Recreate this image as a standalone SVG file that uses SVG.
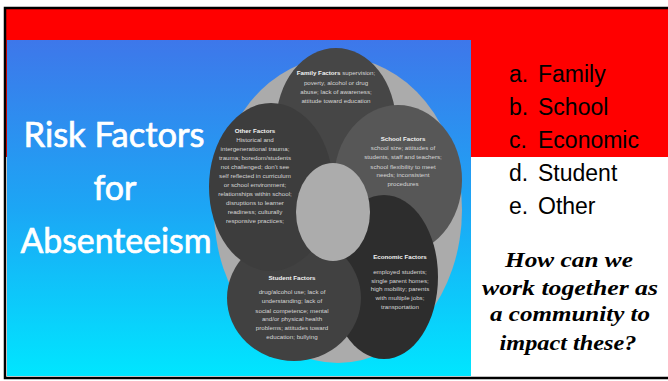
<svg xmlns="http://www.w3.org/2000/svg" width="668" height="381" viewBox="0 0 668 381">
<defs>
<linearGradient id="bg" x1="0" y1="0" x2="0" y2="1">
<stop offset="0" stop-color="#3e77ea"/>
<stop offset="0.5" stop-color="#1ca6f5"/>
<stop offset="1" stop-color="#00e6ff"/>
</linearGradient>
<style>
.t{font-family:"Liberation Sans",Arial,sans-serif;font-size:6.2px;fill:#d6d6d6;text-anchor:middle}
.b{font-weight:bold;fill:#f2f2f2}
.title{font-family:Lato,"Liberation Sans",sans-serif;font-size:34px;fill:#ffffff;stroke:#ffffff;stroke-width:0.7;text-anchor:middle}
.list{font-family:"Liberation Sans",Arial,sans-serif;font-size:23px;fill:#000}
.q{font-family:"Liberation Serif","Times New Roman",serif;font-style:italic;font-weight:bold;font-size:22px;fill:#000;text-anchor:middle}
</style>
</defs>
<rect x="0" y="0" width="668" height="381" fill="#ffffff"/>
<rect x="6" y="9" width="662" height="148" fill="#ff0000"/>
<rect x="7" y="40" width="464" height="336" fill="url(#bg)"/>
<rect x="5" y="8" width="672" height="370" fill="none" stroke="#000" stroke-width="2.5"/>

<g id="title">
<text class="title" x="114" y="147" textLength="181" lengthAdjust="spacingAndGlyphs">Risk Factors</text>
<text class="title" x="115" y="200">for</text>
<text class="title" x="116" y="253" textLength="191" lengthAdjust="spacingAndGlyphs">Absenteeism</text>
</g>

<g id="background"><ellipse cx="338" cy="210" rx="124" ry="153" fill="#ababab"/></g>

<g id="family">
<ellipse cx="336" cy="124" rx="60" ry="76" fill="#464646"/>
<text class="t" x="336" y="75"><tspan class="b">Family Factors</tspan> supervision;</text>
<text class="t" x="336" y="85">poverty, alcohol or drug</text>
<text class="t" x="336" y="94">abuse; lack of awareness;</text>
<text class="t" x="336" y="103">attitude toward education</text>
</g>

<g id="school">
<ellipse cx="398" cy="180" rx="64" ry="75" fill="#575757"/>
<text class="t b" x="403" y="141">School Factors</text>
<text class="t" x="403" y="150">school size; attitudes of</text>
<text class="t" x="403" y="159">students, staff and teachers;</text>
<text class="t" x="403" y="169">school flexibility to meet</text>
<text class="t" x="403" y="177">needs; inconsistent</text>
<text class="t" x="403" y="186">procedures</text>
</g>

<g id="economic">
<ellipse cx="384" cy="277" rx="54" ry="82" fill="#2d2d2d"/>
<text class="t b" x="400" y="259">Economic Factors</text>
<text class="t" x="400" y="274">employed students;</text>
<text class="t" x="400" y="283">single parent homes;</text>
<text class="t" x="400" y="291">high mobility; parents</text>
<text class="t" x="400" y="300">with multiple jobs;</text>
<text class="t" x="400" y="309">transportation</text>
</g>

<g id="student">
<ellipse cx="294" cy="298" rx="67" ry="63" fill="#414141"/>
<text class="t b" x="292" y="280">Student Factors</text>
<text class="t" x="292" y="294">drug/alcohol use; lack of</text>
<text class="t" x="292" y="303">understanding; lack of</text>
<text class="t" x="292" y="313">social competence; mental</text>
<text class="t" x="292" y="321">and/or physical health</text>
<text class="t" x="292" y="330">problems; attitudes toward</text>
<text class="t" x="292" y="339">education; bullying</text>
</g>

<g id="other">
<ellipse cx="271" cy="187" rx="62" ry="84" fill="#3d3d3d"/>
<text class="t b" x="255" y="133">Other Factors</text>
<text class="t" x="255" y="142">Historical and</text>
<text class="t" x="255" y="151">intergenerational trauma;</text>
<text class="t" x="255" y="160">trauma; boredom/students</text>
<text class="t" x="255" y="169">not challenged; don't see</text>
<text class="t" x="255" y="178">self reflected in curriculum</text>
<text class="t" x="255" y="187">or school environment;</text>
<text class="t" x="255" y="196">relationships within school;</text>
<text class="t" x="255" y="205">disruptions to learner</text>
<text class="t" x="255" y="214">readiness; culturally</text>
<text class="t" x="255" y="223">responsive practices;</text>
</g>

<g id="center"><ellipse cx="333" cy="212" rx="37" ry="49" fill="#acacac"/></g>

<g id="list">
<text class="list" x="509" y="82">a.</text><text class="list" x="538" y="82">Family</text>
<text class="list" x="509" y="115">b.</text><text class="list" x="538" y="115">School</text>
<text class="list" x="509" y="148">c.</text><text class="list" x="538" y="148">Economic</text>
<text class="list" x="509" y="181">d.</text><text class="list" x="538" y="181">Student</text>
<text class="list" x="509" y="214">e.</text><text class="list" x="538" y="214">Other</text>
</g>

<g id="question">
<text class="q" x="569" y="267" textLength="128" lengthAdjust="spacingAndGlyphs">How can we</text>
<text class="q" x="570" y="295" textLength="176" lengthAdjust="spacingAndGlyphs">work together as</text>
<text class="q" x="570" y="321" textLength="160" lengthAdjust="spacingAndGlyphs">a community to</text>
<text class="q" x="568" y="350" textLength="137" lengthAdjust="spacingAndGlyphs">impact these?</text>
</g>
</svg>
